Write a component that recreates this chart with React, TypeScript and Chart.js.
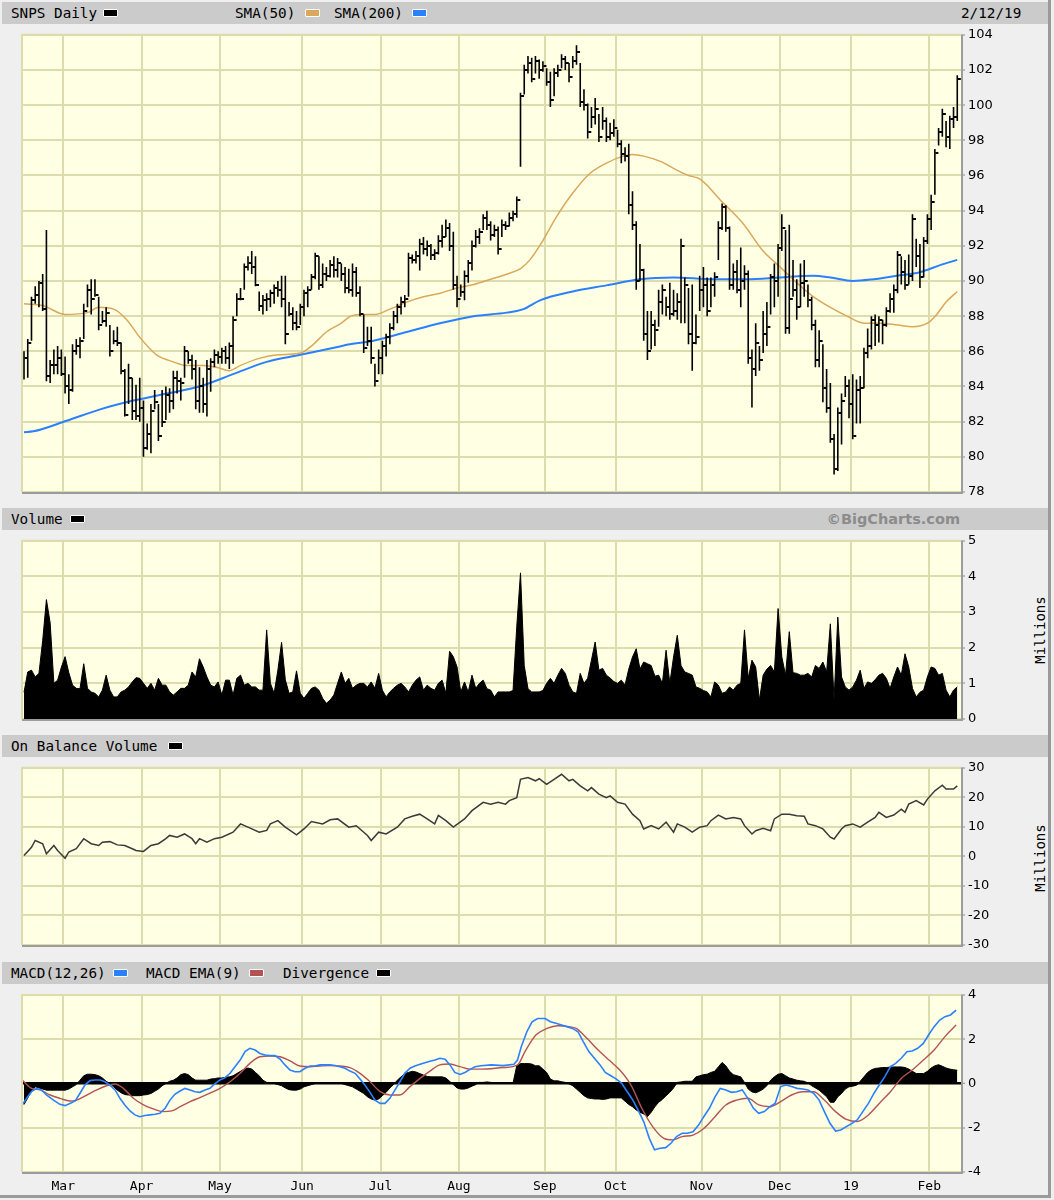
import React, { useEffect, useRef } from "react";
import { Chart, registerables } from "chart.js";
Chart.register(...registerables);

// ---------- x axis: trading-day index (0 = Feb 13 2018 ... 250 = Feb 12 2019)
const monthPos = [10.5, 31.5, 52.5, 74.5, 95.5, 116.5, 139.5, 158.5, 181.5, 202.5, 221.5, 242.5];
const monthLabels = ["Mar", "Apr", "May", "Jun", "Jul", "Aug", "Sep", "Oct", "Nov", "Dec", "19", "Feb"];

// ---------- price bars
const highs = [
  86.0, 86.7, 89.1, 89.7, 90.0, 90.4, 92.9, 85.5, 86.1, 86.3,
  86.1, 85.7, 84.7, 86.4, 86.7, 86.8, 88.7, 89.8, 90.1, 90.1,
  89.1, 88.3, 88.5, 87.5, 87.2, 87.4, 86.5, 85.0, 85.3, 84.5,
  84.1, 84.5, 83.2, 81.9, 83.0, 83.8, 83.0, 83.8, 84.0, 83.9,
  84.9, 84.9, 84.5, 86.3, 86.0, 85.8, 85.5, 85.1, 84.5, 85.5,
  85.6, 86.1, 86.0, 86.2, 86.3, 86.5, 88.0, 89.3, 89.6, 91.0,
  91.4, 91.7, 91.4, 89.4, 89.2, 89.3, 89.5, 89.8, 90.0, 90.3,
  90.3, 88.8, 88.5, 88.3, 88.7, 89.5, 89.7, 90.4, 91.6, 91.4,
  91.0, 90.8, 91.2, 91.4, 91.3, 91.0, 90.8, 90.7, 91.0, 90.8,
  89.7, 88.1, 87.4, 87.4, 85.3, 86.1, 86.6, 87.0, 87.6, 88.3,
  88.7, 89.1, 89.2, 91.6, 91.5, 91.7, 92.4, 92.5, 92.3, 92.1,
  91.8, 92.6, 93.2, 93.5, 93.3, 92.8, 90.3, 89.8, 90.6, 91.2,
  92.3, 92.9, 93.0, 93.8, 94.0, 93.4, 93.2, 93.1, 93.5, 93.4,
  93.9, 94.0, 94.8, 100.7, 102.3, 102.8, 102.7, 102.8, 102.6, 102.5,
  102.1, 101.9, 102.1, 102.3, 102.9, 102.8, 102.4, 102.8, 103.4, 102.4,
  100.9, 100.1, 99.9, 100.4, 99.5, 99.9, 99.3, 99.0, 99.2, 98.6,
  98.0, 97.6, 97.8, 95.1, 93.4, 92.1, 90.7, 88.3, 88.3, 87.8,
  89.5, 89.8, 89.1, 89.9, 89.5, 89.3, 92.4, 90.2, 89.6, 89.8,
  88.1, 90.3, 90.8, 90.2, 90.2, 90.5, 93.4, 94.4, 94.3, 93.1,
  91.0, 91.2, 91.9, 90.9, 90.6, 86.1, 87.6, 86.3, 88.3, 88.8,
  90.4, 91.0, 92.1, 93.8, 92.9, 93.2, 91.2, 90.1, 91.0, 91.2,
  89.8, 89.1, 87.8, 87.2, 86.4, 85.0, 84.2, 81.3, 82.8, 83.6,
  84.6, 84.4, 84.7, 84.4, 84.6, 86.2, 87.3, 88.0, 88.1, 88.0,
  87.8, 88.5, 89.3, 89.8, 91.7, 91.4, 91.2, 91.5, 93.8, 92.4,
  92.1, 92.5, 93.8, 94.9, 97.5, 98.7, 99.8, 99.1, 99.4, 99.9,
  101.7,
];
const lows = [
  84.4, 84.5, 86.6, 88.7, 88.5, 88.3, 84.3, 84.2, 84.7, 84.7,
  84.6, 83.6, 83.0, 83.7, 85.8, 85.6, 86.7, 88.5, 88.1, 89.1,
  87.2, 87.6, 87.4, 85.7, 86.4, 86.3, 84.7, 82.3, 83.0, 82.1,
  82.1, 82.0, 80.0, 80.4, 80.2, 82.7, 80.9, 81.7, 82.1, 82.5,
  82.7, 83.6, 83.2, 84.5, 85.3, 84.4, 82.7, 82.5, 82.5, 82.3,
  83.7, 85.1, 85.3, 85.3, 85.3, 85.0, 85.3, 88.0, 88.9, 89.5,
  90.6, 90.4, 89.7, 88.3, 88.1, 88.3, 88.5, 88.7, 89.1, 88.5,
  86.4, 88.0, 87.2, 87.2, 87.5, 88.0, 88.5, 89.5, 90.1, 89.5,
  89.6, 90.0, 90.2, 90.2, 90.2, 90.0, 89.3, 89.3, 89.1, 89.1,
  88.0, 85.9, 86.3, 85.3, 84.0, 84.7, 84.7, 85.7, 86.4, 87.2,
  87.6, 88.1, 88.5, 89.1, 91.0, 91.0, 90.6, 91.5, 91.4, 91.2,
  91.2, 91.5, 91.9, 92.5, 91.7, 89.5, 88.5, 89.1, 88.9, 89.9,
  90.6, 91.9, 92.1, 92.9, 92.9, 92.3, 92.5, 91.5, 92.5, 92.9,
  93.1, 93.4, 93.6, 96.5, 100.6, 101.8, 101.3, 101.8, 101.5, 101.9,
  101.1, 99.9, 100.5, 101.6, 102.1, 102.0, 101.3, 102.1, 102.3, 99.9,
  99.7, 98.1, 98.7, 98.9, 97.9, 98.6, 97.9, 98.0, 98.2, 97.6,
  96.7, 96.8, 93.8, 92.9, 89.5, 90.0, 86.6, 85.5, 86.1, 86.3,
  87.4, 88.1, 88.0, 87.8, 88.0, 87.8, 87.6, 87.6, 86.4, 84.9,
  86.4, 88.3, 88.5, 88.0, 88.5, 89.1, 91.2, 92.9, 92.8, 89.5,
  89.5, 89.3, 88.5, 89.5, 85.3, 82.8, 84.6, 84.9, 85.9, 86.3,
  88.1, 88.5, 89.1, 91.7, 87.0, 87.0, 89.1, 87.8, 88.5, 89.1,
  88.5, 87.2, 85.1, 85.1, 83.1, 82.5, 80.8, 79.0, 79.2, 80.7,
  83.4, 82.2, 81.0, 81.9, 81.9, 83.9, 85.6, 86.1, 86.3, 86.5,
  86.4, 87.4, 88.2, 88.2, 89.3, 89.8, 89.5, 89.8, 90.0, 90.8,
  89.6, 90.2, 92.1, 92.9, 94.9, 97.7, 98.2, 97.6, 97.5, 98.7,
  99.1,
];
const closes = [
  85.6, 86.5, 88.9, 89.2, 89.9, 88.4, 84.6, 85.2, 85.2, 85.6,
  84.7, 84.0, 83.8, 86.0, 86.3, 86.6, 88.3, 89.5, 89.0, 89.2,
  87.5, 87.7, 88.2, 86.0, 86.6, 86.5, 84.9, 82.4, 84.5, 82.6,
  82.3, 82.8, 80.5, 81.3, 82.6, 83.1, 81.2, 82.0, 83.5, 83.2,
  84.5, 84.3, 84.2, 86.0, 85.5, 85.0, 83.2, 84.0, 83.0, 85.0,
  85.4, 85.8, 85.7, 86.0, 85.6, 86.3, 87.8, 89.0, 89.0, 90.8,
  91.0, 90.8, 89.8, 88.6, 88.9, 89.0, 89.3, 89.6, 89.5, 89.0,
  87.0, 88.1, 87.6, 87.4, 88.5, 89.3, 89.5, 90.2, 91.4, 89.8,
  90.4, 90.3, 90.9, 90.6, 91.0, 90.4, 89.6, 89.5, 90.5, 89.3,
  88.1, 86.2, 86.6, 85.6, 84.3, 85.6, 86.3, 86.8, 87.3, 88.0,
  88.5, 88.8, 89.0, 91.3, 91.2, 91.4, 92.1, 91.8, 92.0, 91.5,
  91.6, 92.3, 92.5, 93.0, 92.0, 89.8, 89.0, 89.4, 90.3, 91.0,
  92.0, 92.5, 92.8, 93.6, 93.2, 92.6, 92.9, 91.8, 93.2, 93.1,
  93.6, 93.8, 94.6, 100.5, 102.0, 102.4, 101.5, 102.5, 102.0, 102.2,
  101.3, 100.3, 101.8, 102.0, 102.6, 102.4, 101.6, 102.5, 103.0, 100.2,
  100.0, 98.5, 99.3, 99.8, 98.2, 99.1, 98.2, 98.4, 98.7, 97.8,
  97.2, 97.1, 94.3, 93.2, 90.0, 90.6, 87.0, 86.0, 87.5, 87.2,
  88.8, 89.5, 88.5, 88.1, 88.3, 88.8, 92.0, 89.8, 87.0, 86.5,
  86.8, 89.5, 89.8, 88.3, 89.8, 90.2, 93.0, 94.2, 93.0, 89.8,
  90.5, 89.5, 90.0, 90.4, 85.6, 85.0, 86.5, 85.5, 87.0, 87.4,
  90.2, 90.0, 91.9, 93.0, 87.3, 89.0, 89.5, 88.5, 89.9, 90.0,
  88.9, 87.5, 85.5, 86.6, 83.9, 82.8, 81.0, 79.3, 82.5, 83.2,
  84.0, 83.0, 81.2, 83.8, 83.9, 85.9, 86.3, 87.8, 87.5, 87.8,
  87.5, 88.3, 89.0, 89.5, 91.5, 90.5, 89.8, 90.3, 93.5, 91.4,
  90.2, 92.3, 93.5, 94.5, 97.3, 98.5, 99.5, 98.2, 99.2, 99.3,
  101.5,
];

// ---------- moving averages [dayIndex, value]
const sma50 = [
  [0, 88.7], [5, 88.6], [11, 88.1], [17, 88.2], [20, 88.5], [24, 88.4], [27.5, 87.8], [31, 86.8],
  [35.5, 85.8], [40, 85.4], [43.5, 85.2], [48, 85.2], [51.5, 85.1], [55, 84.9], [58, 85.2], [63, 85.6],
  [68, 85.8], [74, 85.9], [77, 86.3], [81, 87.1], [85, 87.6], [87.5, 88.0], [90, 88.1], [94, 88.1],
  [98, 88.4], [102.5, 88.8], [107, 89.1], [111.5, 89.3], [116, 89.6], [120.5, 89.8], [125, 90.1],
  [129.5, 90.4], [133, 90.7], [135.5, 91.2], [139, 92.3], [142.5, 93.6], [147, 95.0], [151.5, 96.1],
  [156, 96.7], [160.5, 97.1], [163, 97.2], [166, 97.1], [170.5, 96.8], [174, 96.4], [178, 96.0],
  [181, 95.8], [187, 94.5], [192.5, 93.3], [198, 91.7], [202.5, 90.8], [207, 89.9], [211.5, 89.1],
  [216, 88.5], [220.5, 88.0], [225, 87.6], [229, 87.6], [234, 87.5], [238, 87.4], [242, 87.6],
  [244.5, 88.1], [247, 88.8], [250, 89.4],
];
const sma200 = [
  [0, 81.4], [2.5, 81.45], [11.4, 82.05], [20.4, 82.7], [29.3, 83.2], [38.2, 83.6], [47, 84.0],
  [56, 84.7], [65, 85.4], [74, 85.8], [83, 86.2], [87.3, 86.4], [93.6, 86.6], [102.5, 87.1],
  [111.4, 87.6], [120.4, 88.0], [129.3, 88.2], [133.8, 88.4], [138.2, 88.9], [147, 89.4],
  [156, 89.75], [165, 90.1], [174, 90.2], [184.6, 90.1], [193.6, 90.1], [202.5, 90.2],
  [211.4, 90.3], [216, 90.2], [222, 90.0], [227.5, 90.1], [233.8, 90.3], [240, 90.5],
  [245.4, 90.9], [250, 91.2],
];

// ---------- volume (millions)
const volume = [
  0.75, 1.32, 1.37, 1.18, 1.28, 2.2, 3.35, 2.7, 1.0, 1.09,
  1.45, 1.75, 1.3, 0.95, 0.86, 0.85, 1.55, 0.86, 0.76, 0.72,
  0.62, 0.81, 1.23, 0.81, 0.62, 0.62, 0.76, 0.81, 0.9, 1.04,
  1.16, 1.14, 1.0, 0.86, 1.0, 0.81, 1.14, 0.95, 0.95, 0.76,
  0.67, 0.76, 0.86, 0.86, 0.95, 1.32, 1.18, 1.69, 1.46, 1.18,
  0.95, 0.9, 1.04, 0.67, 1.09, 1.09, 0.67, 1.14, 1.23, 0.95,
  1.0, 0.9, 0.9, 0.81, 0.81, 2.5, 1.0, 0.72, 1.37, 2.15,
  1.1, 0.72, 0.76, 1.35, 0.72, 0.58, 0.72, 0.86, 0.9, 0.81,
  0.58, 0.44, 0.53, 0.67, 1.0, 1.32, 1.0, 1.14, 0.86, 0.95,
  1.0, 1.0, 0.9, 1.04, 0.86, 1.28, 0.81, 0.62, 0.76, 0.86,
  0.95, 1.0, 0.9, 0.76, 0.95, 1.09, 1.18, 0.81, 0.95, 0.86,
  0.81, 1.0, 1.09, 0.72, 1.9, 1.75, 1.46, 0.76, 1.04, 0.76,
  1.23, 0.86, 1.0, 1.09, 0.85, 0.81, 0.62, 0.76, 0.76, 0.76,
  0.76, 0.8, 2.6, 4.1, 1.5, 0.85, 0.76, 0.76, 0.76, 0.8,
  1.0, 1.14, 1.0, 1.23, 1.42, 1.28, 0.95, 0.76, 0.72, 1.28,
  1.0, 1.14, 1.65, 2.16, 1.37, 1.42, 1.23, 1.15, 1.05, 1.0,
  1.09, 0.95, 1.4, 1.74, 1.97, 1.4, 1.6, 1.55, 1.5, 1.2,
  1.23, 1.0, 1.93, 1.0, 1.74, 2.35, 1.5, 1.32, 1.28, 1.23,
  0.9, 0.86, 0.8, 0.76, 0.62, 1.04, 0.95, 0.72, 0.76, 0.9,
  0.81, 0.95, 1.0, 2.5, 1.14, 1.65, 1.46, 0.53, 1.23, 1.4,
  1.5, 1.32, 3.1, 1.74, 1.23, 2.45, 1.3, 1.28, 1.23, 1.23,
  1.28, 1.18, 1.5, 1.42, 1.6, 1.32, 2.67, 0.53, 2.86, 1.18,
  0.9, 0.81, 0.9, 1.09, 1.37, 0.86, 1.04, 1.0, 1.1, 1.23,
  1.28, 1.14, 0.86, 1.18, 1.46, 1.23, 1.83, 1.46, 0.86, 0.62,
  0.75, 0.81, 1.18, 1.46, 1.42, 1.23, 1.28, 0.81, 0.62, 0.81,
  0.9,
];

// ---------- on balance volume (millions) [dayIndex, value]
const obv = [
  [0, 0.3], [2, 3.1], [3, 5.4], [5, 4.3], [6, 0.9], [8, 3.7], [9, 2.0], [11, -0.6], [12, 1.5],
  [14, 2.6], [16, 6.0], [18, 4.3], [20, 3.7], [21, 4.8], [23, 5.0], [25, 3.9], [27, 3.7], [29, 2.6],
  [30, 2.0], [32, 1.7], [34, 3.7], [36, 4.3], [38, 6.0], [39, 7.1], [41, 6.5], [43, 7.6], [45, 6.0],
  [46, 4.3], [47, 6.0], [49, 4.8], [51, 6.0], [53, 6.5], [56, 8.2], [58, 11.0], [60, 9.9], [63, 8.2],
  [65, 8.8], [66, 11.0], [68, 12.1], [70, 9.9], [73, 7.3], [75, 9.3], [77, 11.8], [80, 11.0],
  [82, 12.4], [84, 12.7], [87, 9.9], [89, 10.4], [92, 7.1], [93, 5.4], [95, 8.2], [97, 7.6],
  [100, 9.9], [102, 12.7], [104, 13.6], [106, 14.3], [108, 12.7], [110, 11.0], [111, 13.9],
  [113, 12.1], [115, 9.9], [118, 12.7], [120, 15.5], [123, 18.3], [125, 17.7], [127, 18.3],
  [129, 17.7], [130, 18.9], [132, 19.9], [133, 26.1], [135, 26.7], [137, 25.6], [138, 26.3],
  [140, 24.4], [142, 26.1], [144, 27.8], [146, 25.6], [147, 26.1], [149, 23.9], [151, 22.2],
  [152, 23.3], [154, 21.1], [156, 19.9], [157, 20.5], [159, 18.3], [161, 17.7], [163, 14.3],
  [165, 12.1], [166, 9.3], [168, 10.4], [170, 9.3], [172, 11.6], [174, 8.2], [175, 11.0],
  [177, 9.9], [179, 8.2], [181, 9.9], [183, 10.4], [184, 12.1], [186, 14.0], [188, 12.7],
  [190, 13.2], [192, 12.7], [193, 10.4], [195, 7.6], [196, 8.7], [198, 9.5], [200, 8.7],
  [201, 12.7], [203, 14.3], [205, 14.3], [207, 13.8], [209, 13.6], [210, 11.0], [212, 10.4],
  [214, 9.3], [216, 6.5], [217, 5.9], [219, 9.3], [220, 10.4], [222, 11.0], [224, 9.9],
  [226, 11.6], [228, 13.2], [229, 14.9], [231, 13.2], [233, 14.0], [235, 16.0], [236, 14.9],
  [237, 17.7], [239, 18.9], [241, 17.4], [242, 19.4], [244, 22.2], [246, 24.1], [247, 22.8],
  [249, 22.8], [250, 23.9],
];

// ---------- MACD(12,26) [dayIndex, value]
const macdLine = [
  [-0.5, -0.97], [0.7, -0.67], [2, -0.37], [3.4, -0.22], [4.7, -0.29], [6, -0.52], [7.9, -0.75],
  [9.6, -0.94], [11, -1.0], [12.3, -0.9], [13.7, -0.79], [15, -0.44], [16.3, -0.07], [17.7, 0.13],
  [19, 0.16], [20.4, 0.16], [21.7, 0.08], [23, -0.07], [24.4, -0.29], [25.7, -0.67], [27, -0.97],
  [28.4, -1.24], [29.7, -1.42], [31, -1.5], [32.4, -1.45], [33.75, -1.42], [35.1, -1.39],
  [36.4, -1.35], [37.8, -1.12], [39.1, -0.75], [40.4, -0.49], [41.8, -0.34], [43.1, -0.22],
  [44.5, -0.29], [45.8, -0.37], [47.1, -0.4], [48.5, -0.29], [49.8, -0.22], [51.2, 0.0],
  [52.5, 0.16], [53.8, 0.26], [55.2, 0.46], [56.5, 0.76], [57.9, 1.06], [59.2, 1.44], [60.5, 1.59],
  [61.9, 1.51], [63.2, 1.36], [64.6, 1.29], [65.9, 1.26], [67.2, 1.26], [68.6, 1.1], [69.9, 0.84],
  [71.25, 0.61], [72.6, 0.53], [73.9, 0.53], [75.3, 0.69], [76.6, 0.79], [77.9, 0.79], [79.3, 0.84],
  [80.6, 0.84], [82, 0.84], [83.3, 0.81], [84.6, 0.76], [86, 0.69], [87.3, 0.56], [88.7, 0.46],
  [90, 0.2], [91.3, -0.07], [92.7, -0.4], [94, -0.75], [95.4, -0.9], [96.7, -0.9], [98, -0.67],
  [99.4, -0.29], [100.7, 0.08], [102, 0.46], [103.4, 0.69], [104.7, 0.79], [106.1, 0.87],
  [107.4, 0.94], [108.75, 1.01], [110.1, 1.06], [111.4, 1.14], [112.8, 1.1], [114.1, 0.84],
  [115.4, 0.5], [116.8, 0.41], [118.1, 0.5], [119.5, 0.64], [120.8, 0.76], [122.4, 0.8],
  [125.2, 0.84], [128.3, 0.81], [131.25, 0.87], [132.2, 1.06], [133.2, 1.66], [134.7, 2.34],
  [136.1, 2.79], [137.6, 2.94], [139.6, 2.94], [141, 2.79], [142.5, 2.72], [144, 2.64],
  [145.4, 2.57], [146.9, 2.49], [148.4, 2.34], [149.8, 1.89], [151.3, 1.44], [152.8, 1.14],
  [154.3, 0.84], [155.7, 0.5], [157.2, 0.35], [158.7, 0.2], [160.1, 0.01], [161.6, -0.37],
  [163.1, -0.75], [164.5, -1.2], [166, -1.72], [167.5, -2.48], [168.9, -3.0], [170.4, -2.93],
  [171.9, -2.9], [173.3, -2.7], [174.8, -2.4], [176.3, -2.25], [177.7, -2.25], [179.2, -2.18],
  [180.7, -1.88], [182.1, -1.5], [183.6, -1.12], [185.1, -0.6], [186.5, -0.22], [188, -0.29],
  [189.5, -0.4], [190.9, -0.37], [192.4, -0.29], [193.9, -0.67], [195.4, -1.12], [196.8, -1.35],
  [198.3, -1.27], [199.8, -1.05], [201.2, -0.9], [202.7, -0.14], [204.2, -0.07], [205.6, -0.14],
  [207.1, -0.22], [208.6, -0.25], [210, -0.29], [211.5, -0.44], [213, -0.75], [214.4, -1.27],
  [215.9, -1.8], [217.4, -2.15], [218.8, -2.1], [220.3, -1.95], [221.8, -1.8], [223.2, -1.65],
  [224.7, -1.27], [226.2, -0.9], [227.7, -0.44], [229.1, -0.07], [230.6, 0.31], [232.1, 0.76],
  [233.5, 0.91], [235, 1.14], [236.5, 1.44], [237.9, 1.47], [239.4, 1.59], [240.9, 1.81],
  [242.3, 2.19], [243.8, 2.57], [245.3, 2.87], [246.7, 3.02], [248.2, 3.1], [249.7, 3.32],
];
const macdSignal = [
  [-0.5, 0.16], [2, -0.22], [4.3, -0.29], [7, -0.52], [9.6, -0.67], [12.3, -0.79], [14.1, -0.75],
  [16.8, -0.52], [19.5, -0.29], [22.1, -0.1], [24.4, -0.02], [26.6, -0.22], [29.3, -0.67],
  [32, -0.97], [34.6, -1.15], [37.3, -1.27], [39.6, -1.24], [41.8, -1.05], [44.5, -0.82],
  [47.1, -0.64], [49.8, -0.44], [52.5, -0.22], [55.2, 0.08], [57.9, 0.46], [60.5, 0.91],
  [63.2, 1.21], [65.9, 1.24], [68.6, 1.21], [71.25, 1.02], [73.9, 0.79], [76.6, 0.76], [79.3, 0.79],
  [82, 0.81], [84.6, 0.79], [87.3, 0.72], [90, 0.46], [92.7, 0.08], [95.4, -0.37], [98, -0.52],
  [100.7, -0.52], [103.4, -0.14], [106.1, 0.23], [108.75, 0.56], [111.4, 0.84], [114.1, 0.88],
  [116.8, 0.76], [119.5, 0.65], [122.4, 0.65], [128.3, 0.72], [132.2, 0.84], [134.2, 1.44],
  [137.1, 2.19], [140.1, 2.49], [143, 2.61], [145.9, 2.57], [147.9, 2.49], [150.8, 2.04],
  [153.8, 1.51], [156.7, 1.06], [159.6, 0.61], [162.6, -0.07], [165.5, -1.12], [168.4, -1.95],
  [171.4, -2.48], [173.8, -2.55], [176.3, -2.4], [179.2, -2.33], [182.1, -2.03], [185.1, -1.5],
  [188, -0.97], [190.9, -0.75], [193.9, -0.67], [196.8, -0.97], [199.8, -1.05], [202.7, -0.82],
  [205.6, -0.52], [208.6, -0.37], [211.5, -0.37], [214.4, -0.75], [217.4, -1.27], [220.3, -1.62],
  [223.2, -1.72], [226.2, -1.42], [229.1, -0.9], [232.1, -0.37], [235, 0.23], [237.9, 0.61],
  [240.9, 1.06], [243.8, 1.51], [246.7, 2.12], [249.7, 2.64],
];
const divergence = [
  -0.95, -0.65, -0.35, -0.15, -0.2, -0.25, -0.3, -0.3, -0.3, -0.3,
  -0.3, -0.3, -0.25, -0.15, -0.05, 0.15, 0.35, 0.42, 0.42, 0.4,
  0.35, 0.25, 0.1, 0.0, -0.15, -0.3, -0.42, -0.5, -0.52, -0.55,
  -0.55, -0.55, -0.52, -0.5, -0.45, -0.35, -0.25, -0.1, 0.0, 0.1,
  0.15, 0.25, 0.4, 0.45, 0.4, 0.25, 0.15, 0.15, 0.15, 0.15,
  0.2, 0.22, 0.25, 0.25, 0.28, 0.3, 0.35, 0.45, 0.55, 0.65,
  0.7, 0.65, 0.5, 0.35, 0.15, 0.05, 0.0, 0.0, -0.05, -0.1,
  -0.2, -0.28, -0.3, -0.3, -0.25, -0.15, -0.1, -0.05, 0.0, 0.02,
  0.02, 0.02, 0.02, 0.02, 0.0, 0.0, -0.05, -0.1, -0.15, -0.25,
  -0.35, -0.45, -0.6, -0.7, -0.75, -0.7, -0.55, -0.4, -0.2, -0.05,
  0.15, 0.3, 0.45, 0.5, 0.55, 0.52, 0.45, 0.38, 0.32, 0.3,
  0.3, 0.3, 0.3, 0.25, 0.1, -0.05, -0.2, -0.25, -0.25, -0.2,
  -0.12, -0.05, 0.05, 0.05, 0.07, 0.05, 0.02, 0.02, 0.02, 0.02,
  0.02, 0.02, 0.8, 0.9, 0.9, 0.9, 0.88, 0.8, 0.8, 0.65,
  0.5, 0.2, 0.12, 0.12, 0.08, 0.05, -0.02, -0.1, -0.25, -0.4,
  -0.55, -0.65, -0.68, -0.7, -0.7, -0.72, -0.7, -0.65, -0.65, -0.65,
  -0.65, -0.8, -0.95, -1.05, -1.2, -1.3, -1.38, -1.5, -1.3, -1.05,
  -0.85, -0.72, -0.55, -0.4, -0.2, 0.05, 0.07, 0.1, 0.1, 0.1,
  0.3, 0.35, 0.4, 0.42, 0.5, 0.55, 0.75, 0.95, 0.8, 0.55,
  0.4, 0.35, 0.3, 0.05, -0.25, -0.38, -0.42, -0.35, -0.25, -0.1,
  0.15, 0.3, 0.42, 0.45, 0.35, 0.25, 0.2, 0.15, 0.12, 0.1,
  0.02, -0.1, -0.2, -0.3, -0.45, -0.6, -0.85, -0.85, -0.6, -0.45,
  -0.25, -0.15, -0.12, -0.08, 0.1, 0.3, 0.5, 0.62, 0.68, 0.7,
  0.72, 0.72, 0.74, 0.75, 0.75, 0.75, 0.72, 0.65, 0.55, 0.45,
  0.45, 0.45, 0.55, 0.7, 0.8, 0.85, 0.78, 0.7, 0.65, 0.62,
  0.6,
];

// ---------- styling
const X_MIN = -0.54;
const X_MAX = 251.0;
const PLOT_BG = "#ffffe4";
const GRID = "#dcdcac";
const MONO = "'DejaVu Sans Mono', monospace";
const SANS = "'DejaVu Sans', sans-serif";
const TAN = "#d9a85a";
const BLUE = "#2a80ff";
const RED = "#b25454";

Chart.defaults.font.family = SANS;

const panelPlugin = {
  id: "panelBg",
  beforeDraw(chart: any) {
    const { ctx, chartArea: a } = chart;
    ctx.save();
    ctx.fillStyle = PLOT_BG;
    ctx.fillRect(a.left, a.top, a.right - a.left, a.bottom - a.top);
    ctx.restore();
  },
  afterDraw(chart: any) {
    const { ctx, chartArea: a } = chart;
    ctx.save();
    ctx.strokeStyle = GRID;
    ctx.lineWidth = 2;
    ctx.beginPath();
    ctx.moveTo(a.left, a.bottom);
    ctx.lineTo(a.left, a.top);
    ctx.lineTo(a.right, a.top);
    ctx.stroke();
    ctx.strokeStyle = "#9c9c9c";
    ctx.beginPath();
    ctx.moveTo(a.left, a.bottom + 1);
    ctx.lineTo(a.right + 1, a.bottom + 1);
    ctx.lineTo(a.right + 1, a.top);
    ctx.stroke();
    ctx.restore();
  },
};

function xScale(showLabels: boolean) {
  return {
    type: "linear",
    min: X_MIN,
    max: X_MAX,
    offset: false,
    afterBuildTicks: (axis: any) => {
      axis.ticks = monthPos.map((v) => ({ value: v }));
    },
    afterFit: (s: any) => {
      s.height = showLabels ? 28 : 0;
    },
    grid: { color: GRID, lineWidth: 2, drawTicks: false, offset: false },
    border: { display: false },
    ticks: {
      display: showLabels,
      autoSkip: false,
      maxRotation: 0,
      padding: 7,
      color: "#000",
      font: { family: MONO, size: 13 },
      callback: (_v: any, idx: number) => monthLabels[idx],
    },
  };
}

function yScale(min: number, max: number, step: number, zeroLine = false) {
  return {
    position: "right",
    min,
    max,
    afterFit: (s: any) => {
      s.width = 93;
    },
    grid: {
      color: (c: any) => (zeroLine && c.tick && c.tick.value === 0 ? "#000" : GRID),
      lineWidth: (c: any) => (zeroLine && c.tick && c.tick.value === 0 ? 2.5 : 2),
      tickLength: 4,
      tickColor: "#888",
      tickWidth: 1,
    },
    border: { display: false },
    ticks: {
      stepSize: step,
      padding: 3,
      color: "#000",
      font: { family: SANS, size: 13 },
      callback: (v: any) => String(v),
    },
  };
}

const baseOptions = (padTop: number, padBottom: number) => ({
  responsive: false,
  animation: false,
  events: [],
  layout: { padding: { left: 22, right: 0, top: padTop, bottom: padBottom } },
  plugins: { legend: { display: false }, tooltip: { enabled: false } },
});

function makeTickImage() {
  const c = document.createElement("canvas");
  c.width = 9;
  c.height = 2;
  const g = c.getContext("2d")!;
  g.fillStyle = "#000";
  g.fillRect(5, 0, 3, 2);
  return c;
}

function priceConfig(): any {
  const idx = highs.map((_, k) => k);
  return {
    type: "bar",
    data: {
      datasets: [
        {
          type: "bar",
          data: idx.map((k) => ({ x: k, y: [lows[k], highs[k]] })),
          backgroundColor: "#000",
          borderWidth: 0,
          barThickness: 1.6,
          inflateAmount: 0,
        },
        {
          type: "line",
          data: idx.map((k) => ({ x: k, y: closes[k] })),
          showLine: false,
          pointStyle: makeTickImage(),
          pointRadius: 3,
        },
        {
          type: "line",
          data: sma50.map(([x, y]) => ({ x, y })),
          borderColor: TAN,
          borderWidth: 1.5,
          pointRadius: 0,
          cubicInterpolationMode: "monotone",
        },
        {
          type: "line",
          data: sma200.map(([x, y]) => ({ x, y })),
          borderColor: BLUE,
          borderWidth: 2,
          pointRadius: 0,
          cubicInterpolationMode: "monotone",
        },
      ],
    },
    options: {
      ...baseOptions(10, 16),
      scales: { x: xScale(false), y: yScale(78, 104, 2) },
    },
    plugins: [panelPlugin],
  };
}

function volumeConfig(): any {
  return {
    type: "line",
    data: {
      datasets: [
        {
          data: volume.map((v, k) => ({ x: k, y: v })),
          borderColor: "#000",
          backgroundColor: "#000",
          borderWidth: 1,
          pointRadius: 0,
          fill: "origin",
        },
      ],
    },
    options: {
      ...baseOptions(10, 16),
      scales: { x: xScale(false), y: yScale(0, 5, 1) },
    },
    plugins: [panelPlugin],
  };
}

function obvConfig(): any {
  return {
    type: "line",
    data: {
      datasets: [
        {
          data: obv.map(([x, y]) => ({ x, y })),
          borderColor: "#3a3a3a",
          borderWidth: 1.5,
          pointRadius: 0,
        },
      ],
    },
    options: {
      ...baseOptions(10, 17),
      scales: { x: xScale(false), y: yScale(-30, 30, 10) },
    },
    plugins: [panelPlugin],
  };
}

function macdConfig(): any {
  return {
    type: "line",
    data: {
      datasets: [
        {
          data: macdLine.map(([x, y]) => ({ x, y })),
          borderColor: BLUE,
          borderWidth: 1.6,
          pointRadius: 0,
        },
        {
          data: macdSignal.map(([x, y]) => ({ x, y })),
          borderColor: RED,
          borderWidth: 1.4,
          pointRadius: 0,
          cubicInterpolationMode: "monotone",
        },
        {
          data: divergence.map((v, k) => ({ x: k, y: v })),
          borderColor: "#000",
          backgroundColor: "#000",
          borderWidth: 1,
          pointRadius: 0,
          fill: "origin",
        },
      ],
    },
    options: {
      ...baseOptions(11, 0),
      scales: { x: xScale(true), y: yScale(-4, 4, 2, true) },
    },
    plugins: [panelPlugin],
  };
}

function ChartCanvas({ top, height, build }: { top: number; height: number; build: () => any }) {
  const ref = useRef<HTMLCanvasElement | null>(null);
  useEffect(() => {
    if (!ref.current) return;
    const chart = new Chart(ref.current, build());
    return () => chart.destroy();
  }, []);
  return (
    <canvas
      ref={ref}
      width={1054}
      height={height}
      style={{ position: "absolute", left: 0, top, width: 1054, height, display: "block" }}
    />
  );
}

const textStyle = (left: number): React.CSSProperties => ({
  position: "absolute",
  left,
  top: 0,
  lineHeight: "22px",
  fontFamily: MONO,
  fontSize: 14.3,
  color: "#000",
  whiteSpace: "nowrap",
});

function Swatch({ left, color }: { left: number; color: string }) {
  return (
    <span
      style={{
        position: "absolute",
        left,
        top: 7,
        width: 13,
        height: 6,
        background: color,
        border: "1px solid #fff",
        borderRadius: 1,
      }}
    />
  );
}

function HeaderBar({ top, children }: { top: number; children: React.ReactNode }) {
  return (
    <div
      style={{
        position: "absolute",
        left: 2,
        top,
        width: 1046,
        height: 22,
        background: "#cbcbcb",
      }}
    >
      {children}
    </div>
  );
}

function Millions({ cy }: { cy: number }) {
  return (
    <div
      style={{
        position: "absolute",
        left: 1040 - 40,
        top: cy - 9,
        width: 80,
        height: 18,
        lineHeight: "18px",
        textAlign: "center",
        fontFamily: MONO,
        fontSize: 14,
        color: "#000",
        transform: "rotate(-90deg)",
      }}
    >
      Millions
    </div>
  );
}

export default function App() {
  return (
    <div
      style={{
        position: "absolute",
        left: 0,
        top: 0,
        width: 1054,
        height: 1200,
        background: "#efefef",
        overflow: "hidden",
      }}
    >
      <div
        style={{
          position: "absolute",
          left: 0,
          top: 0,
          width: 1048,
          height: 1195,
          borderRight: "3px solid #9a9a9a",
          borderBottom: "3px solid #9a9a9a",
        }}
      />
      <HeaderBar top={2}>
        <span style={textStyle(9)}>SNPS Daily</span>
        <Swatch left={101} color="#000" />
        <span style={textStyle(233)}>SMA(50)</span>
        <Swatch left={303} color={TAN} />
        <span style={textStyle(332)}>SMA(200)</span>
        <Swatch left={410} color={BLUE} />
        <span style={textStyle(959)}>2/12/19</span>
      </HeaderBar>
      <HeaderBar top={508}>
        <span style={textStyle(9)}>Volume</span>
        <Swatch left={68} color="#000" />
        <span
          style={{
            position: "absolute",
            right: 1046 - 958,
            top: 0,
            lineHeight: "22px",
            fontFamily: SANS,
            fontWeight: "bold",
            fontSize: 14.5,
            color: "#8c8c8c",
            whiteSpace: "nowrap",
          }}
        >
          ©BigCharts.com
        </span>
      </HeaderBar>
      <HeaderBar top={735}>
        <span style={textStyle(9)}>On Balance Volume</span>
        <Swatch left={166} color="#000" />
      </HeaderBar>
      <HeaderBar top={962}>
        <span style={textStyle(9)}>MACD(12,26)</span>
        <Swatch left={111} color={BLUE} />
        <span style={textStyle(144)}>MACD EMA(9)</span>
        <Swatch left={247} color={RED} />
        <span style={textStyle(281)}>Divergence</span>
        <Swatch left={374} color="#000" />
      </HeaderBar>
      <Millions cy={630} />
      <Millions cy={858} />
      <ChartCanvas top={24} height={484} build={priceConfig} />
      <ChartCanvas top={530} height={205} build={volumeConfig} />
      <ChartCanvas top={757} height={205} build={obvConfig} />
      <ChartCanvas top={984} height={216} build={macdConfig} />
    </div>
  );
}
